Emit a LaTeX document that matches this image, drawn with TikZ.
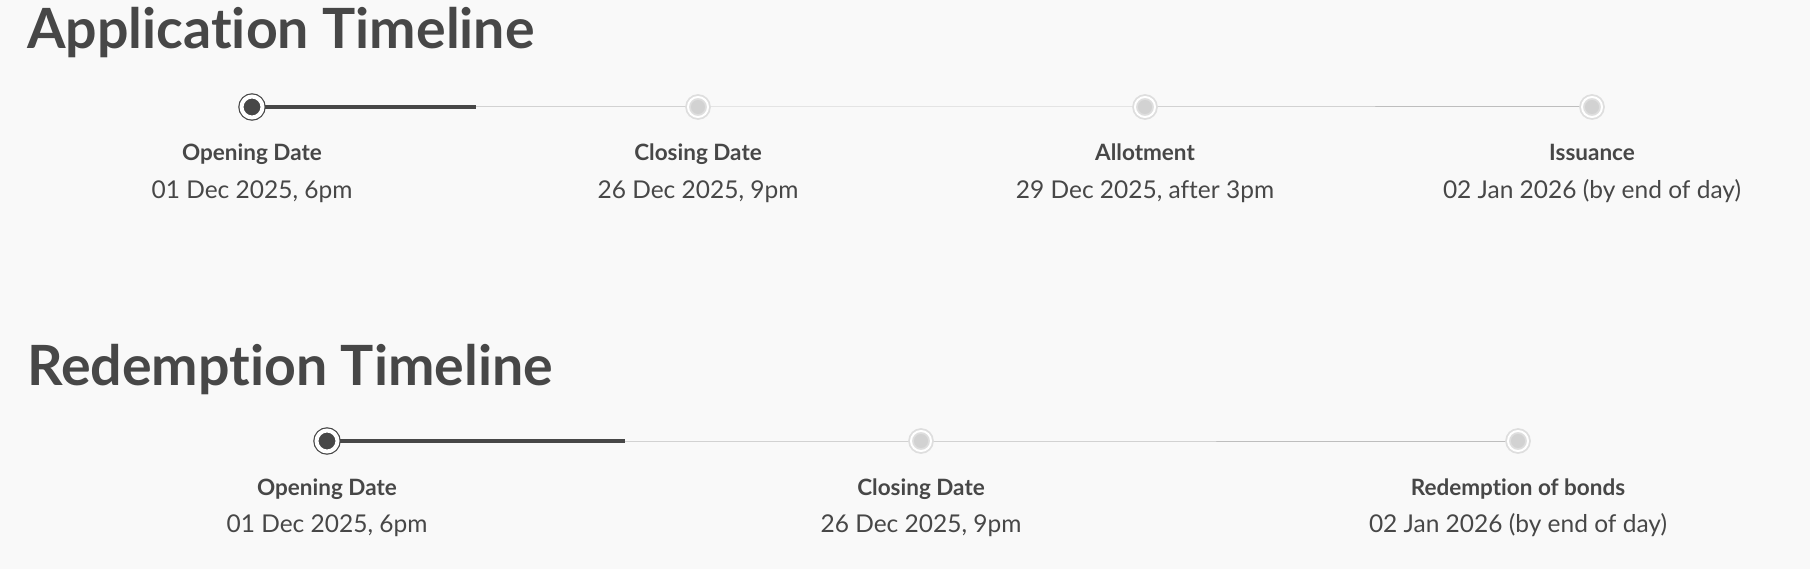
\documentclass[tikz,border=0pt]{standalone}
\usepackage{fontspec}
\setmainfont{Lato}[RawFeature={-liga;-dlig}]
\usetikzlibrary{backgrounds}
\definecolor{inkgray}{HTML}{474747}
\definecolor{pagegray}{HTML}{F9F9F9}
\definecolor{railgray}{HTML}{BEBEBE}
\definecolor{dotgray}{HTML}{D2D2D2}
\definecolor{ringgray}{HTML}{DEDEDE}
\tikzset{
  title/.style={anchor=base west,inner sep=0pt,text=inkgray,font=\fontsize{55.5}{56}\selectfont\bfseries},
  event/.style={anchor=base,inner sep=0pt,text=inkgray,font=\fontsize{22.5}{23}\selectfont\bfseries},
  when/.style={anchor=base,inner sep=0pt,text=inkgray,font=\fontsize{24.5}{25}\selectfont},
  done/.style={circle,inner sep=0pt,outer sep=0pt,minimum size=21pt,fill=inkgray,draw=inkgray,line width=1.2pt,double=white,double distance=4pt},
  todo/.style={circle,inner sep=0pt,outer sep=0pt,minimum size=20pt,fill=dotgray,draw=ringgray,line width=1.8pt,double=white,double distance=2pt},
  rail/.style={draw=railgray,line width=1pt},
  progress/.style={draw=inkgray,line width=4pt}
}
\begin{document}
\begin{tikzpicture}[x=1pt,y=-1pt]
  \useasboundingbox (0,0) rectangle (1810,569);
  \begin{scope}[on background layer]
    \fill[pagegray] (0,0) rectangle (1810,569);
  \end{scope}
  % Application timeline
  \node[title]  (apptitle) at (27,49) {Application Timeline};
  \node[done]   (aopen)    at (252,107) {};
  \node[todo]   (aclose)   at (698,107) {};
  \node[todo]   (aallot)   at (1145,107) {};
  \node[todo]   (aissue)   at (1592,107) {};
  \coordinate   (aprog)    at (476,107);
  \begin{scope}[on background layer]
    \draw[rail] (aopen.center) -- (aclose.center) -- (aallot.center) -- (aissue.center);
    \draw[progress] (aopen.center) -- (aprog);
  \end{scope}
  \node[event]  (aopenev)  at (252,161) {Opening Date};
  \node[when]   (aopenat)  at (252,199) {01 Dec 2025, 6pm};
  \node[event]  (acloseev) at (698,161) {Closing Date};
  \node[when]   (acloseat) at (698,199) {26 Dec 2025, 9pm};
  \node[event]  (aallotev) at (1145,161) {Allotment};
  \node[when]   (aallotat) at (1145,199) {29 Dec 2025, after 3pm};
  \node[event]  (aissueev) at (1592,161) {Issuance};
  \node[when]   (aissueat) at (1592,199) {02 Jan 2026 (by end of day)};
  % Redemption timeline
  \node[title]  (redtitle) at (27,385) {Redemption Timeline};
  \node[done]   (ropen)    at (327,441) {};
  \node[todo]   (rclose)   at (921,441) {};
  \node[todo]   (rbond)    at (1518,441) {};
  \coordinate   (rprog)    at (625,441);
  \begin{scope}[on background layer]
    \draw[rail] (ropen.center) -- (rclose.center) -- (rbond.center);
    \draw[progress] (ropen.center) -- (rprog);
  \end{scope}
  \node[event]  (ropenev)  at (327,495) {Opening Date};
  \node[when]   (ropenat)  at (327,532) {01 Dec 2025, 6pm};
  \node[event]  (rcloseev) at (921,495) {Closing Date};
  \node[when]   (rcloseat) at (921,532) {26 Dec 2025, 9pm};
  \node[event]  (rbondev)  at (1518,495) {Redemption of bonds};
  \node[when]   (rbondat)  at (1518,532) {02 Jan 2026 (by end of day)};
\end{tikzpicture}
\end{document}
